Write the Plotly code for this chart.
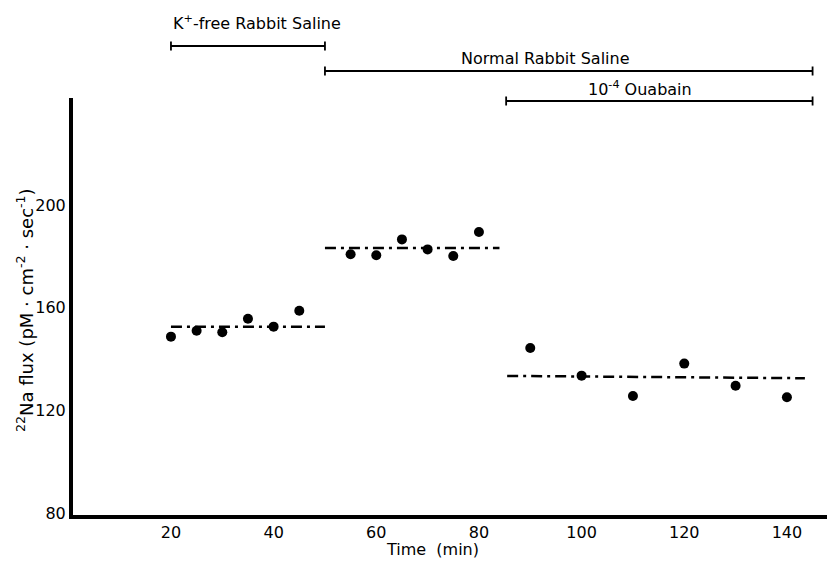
import plotly.graph_objects as go

# ---- data ----
time_kfree = [20, 25, 30, 35, 40, 45]
flux_kfree = [148.7, 151.0, 150.4, 155.7, 152.6, 158.8]
time_normal = [55, 60, 65, 70, 75, 80]
flux_normal = [180.8, 180.4, 186.6, 182.7, 180.1, 189.5]
time_ouab = [90, 100, 110, 120, 130, 140]
flux_ouab = [144.3, 133.5, 125.6, 138.2, 129.6, 125.1]

fit_kfree_x = [20, 50]
fit_kfree_y = [152.6, 152.6]
fit_normal_x = [50, 84]
fit_normal_y = [183.2, 183.2]
fit_ouab_x = [85.5, 143.5]
fit_ouab_y = [133.4, 132.5]

# treatment periods (start, end, label)
periods = [
    (20, 50, "K<sup>+</sup>-free Rabbit Saline"),
    (50, 145, "Normal Rabbit Saline"),
    (85.3, 145, "10<sup>-4</sup> Ouabain"),
]

x_ticks = [20, 40, 60, 80, 100, 120, 140]
y_ticks = [80, 120, 160, 200]

FONT = "DejaVu Sans"
W, H = 827, 562
ML, MR, MT, MB = 73, 0, 98, 47
plot_w = W - ML - MR
plot_h = H - MT - MB
X0_PX, X_SCALE = 68.3, 5.133   # pixel of x=0 and pixels per minute

def py2paper(py):
    return (H - MB - py) / plot_h

def px2paper(px):
    return (px - ML) / plot_w

def px2x(px):
    return (px - X0_PX) / X_SCALE

fig = go.Figure()

for fx, fy in [(fit_kfree_x, fit_kfree_y), (fit_normal_x, fit_normal_y), (fit_ouab_x, fit_ouab_y)]:
    fig.add_trace(go.Scatter(x=fx, y=fy, mode="lines",
                             line=dict(color="black", width=2.5, dash="11px,5px,3px,5px"),
                             showlegend=False, hoverinfo="skip"))

for tx, fy in [(time_kfree, flux_kfree), (time_normal, flux_normal), (time_ouab, flux_ouab)]:
    fig.add_trace(go.Scatter(x=tx, y=fy, mode="markers",
                             marker=dict(color="black", size=10),
                             showlegend=False))

# period bars
bar_py = [46, 71, 101]
label_py = [22, 59, 89]
cap = 4.5 / plot_h
for (x0, x1, lab), by in zip(periods, bar_py):
    yb = py2paper(by)
    fig.add_shape(type="line", xref="x", yref="paper", x0=x0, x1=x1, y0=yb, y1=yb,
                  line=dict(color="black", width=1.8))
    for xe in (x0, x1):
        fig.add_shape(type="line", xref="x", yref="paper", x0=xe, x1=xe,
                      y0=yb - cap, y1=yb + cap, line=dict(color="black", width=1.8))

tfont = dict(family=FONT, size=16, color="black")
fig.add_annotation(x=periods[0][0], xref="x", y=py2paper(label_py[0]), yref="paper",
                   text=periods[0][2], showarrow=False, xanchor="left", yanchor="middle",
                   font=tfont)
fig.add_annotation(x=px2x(545), xref="x", y=py2paper(label_py[1]), yref="paper",
                   text=periods[1][2], showarrow=False, xanchor="center", yanchor="middle",
                   font=tfont)
fig.add_annotation(x=px2x(640), xref="x", y=py2paper(label_py[2]), yref="paper",
                   text=periods[2][2], showarrow=False, xanchor="center", yanchor="middle",
                   font=tfont)

# axis titles
fig.add_annotation(x=px2x(432), xref="x", y=py2paper(549), yref="paper",
                   text="Time  (min)", showarrow=False, xanchor="center", yanchor="middle",
                   font=tfont)
fig.add_annotation(x=px2paper(25), xref="paper", y=py2paper(310), yref="paper",
                   text="<sup>22</sup>Na flux (pM · cm<sup>-2</sup> · sec<sup>-1</sup>)",
                   textangle=-90, showarrow=False, xanchor="center", yanchor="middle",
                   font=dict(family=FONT, size=18, color="black"))

fig.update_xaxes(range=[px2x(ML), px2x(W)], tickvals=x_ticks, ticktext=[str(v) for v in x_ticks],
                 showgrid=False, zeroline=False, showline=True, linecolor="black", linewidth=4,
                 ticks="", tickfont=dict(family=FONT, size=16, color="black"))
fig.update_yaxes(range=[79.2, 241.7], tickvals=y_ticks, ticktext=[str(v) for v in y_ticks],
                 showgrid=False, zeroline=False, showline=True, linecolor="black", linewidth=4,
                 ticks="", tickfont=dict(family=FONT, size=16, color="black"))

fig.update_layout(width=W, height=H, margin=dict(l=ML, r=MR, t=MT, b=MB),
                  paper_bgcolor="white", plot_bgcolor="white",
                  font=dict(family=FONT, color="black"))

fig.write_html("out.html", config={"displayModeBar": False},
               post_script="document.body.style.margin='0';document.body.style.overflow='hidden';")
